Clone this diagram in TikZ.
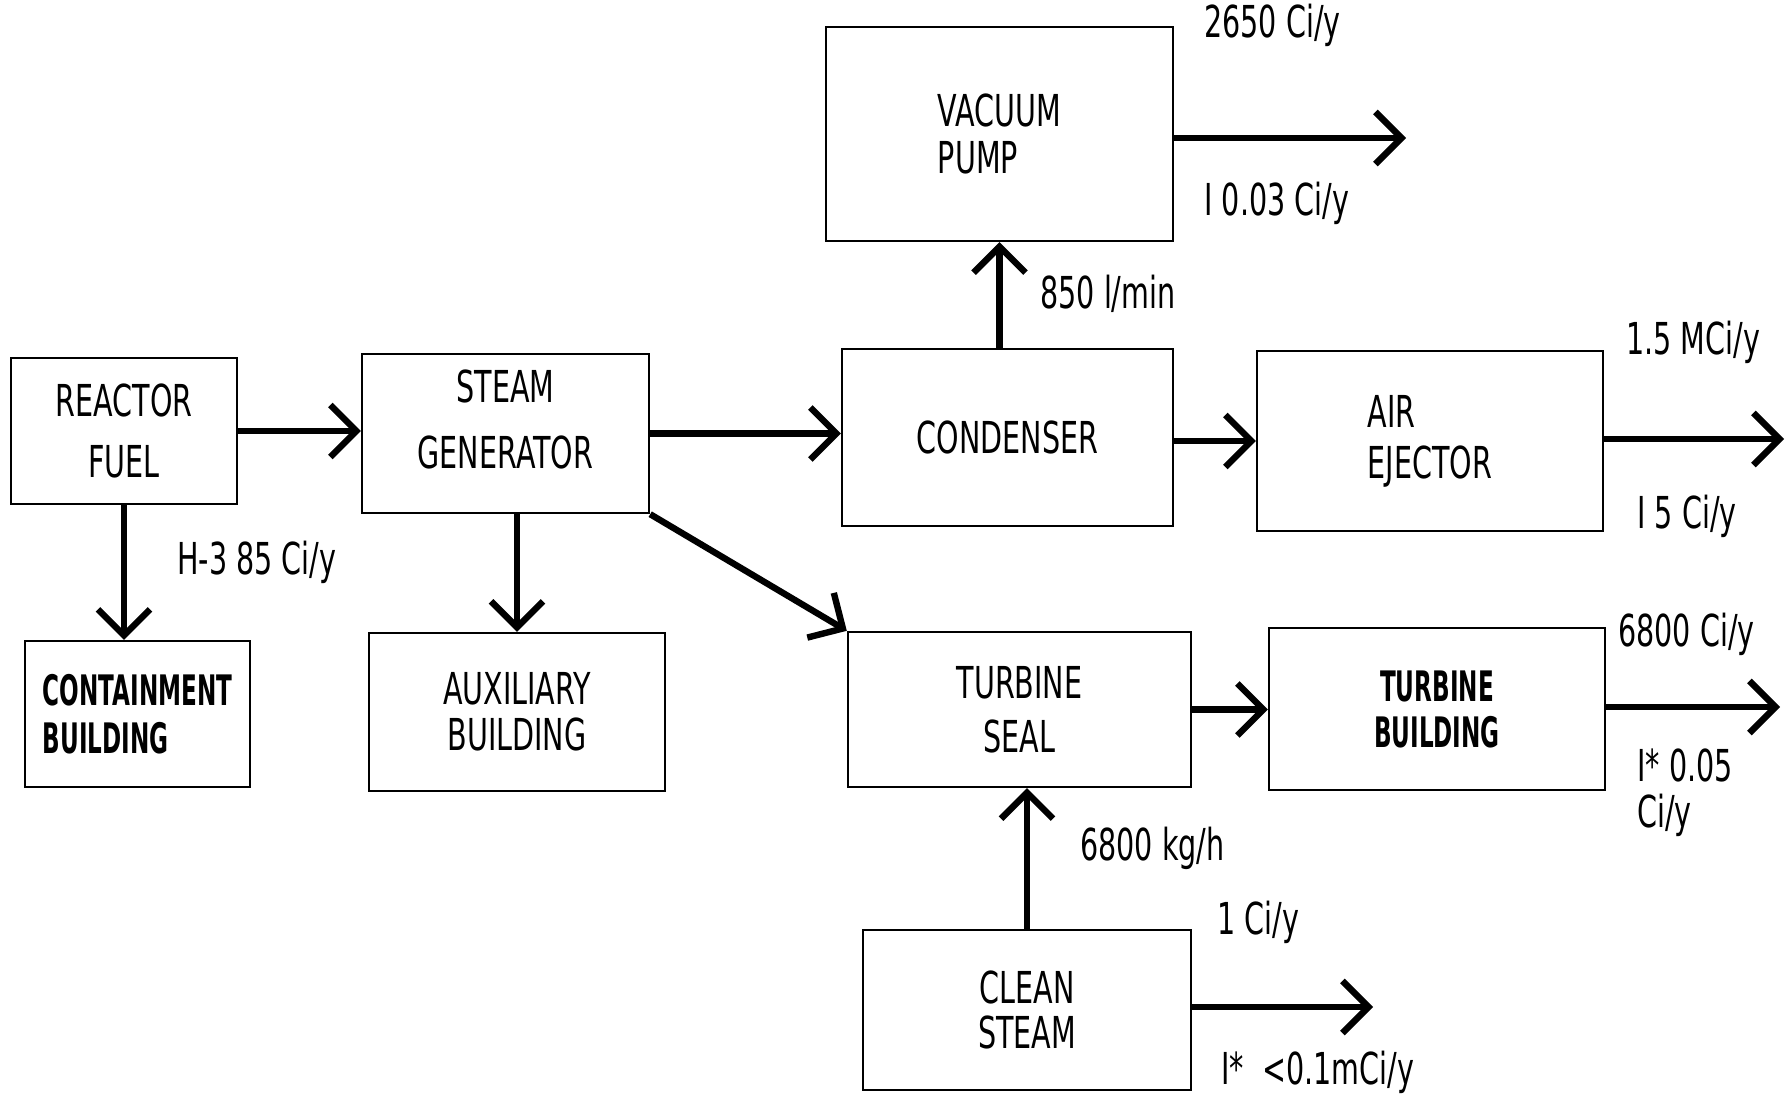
\documentclass[tikz,border=0pt]{standalone}
\usepackage{fontspec}
\setmainfont{DejaVu Sans}[FakeStretch=0.65]
\newfontfamily\narrowbold{DejaVu Sans}[FakeStretch=0.55]
\usetikzlibrary{arrows.meta}
\begin{document}
\begin{tikzpicture}[x=0.5pt,y=-0.5pt,
  box/.style={draw, line width=1.2pt, inner sep=0pt, align=center},
  lbl/.style={anchor=west, inner sep=0pt, font=\fontsize{22}{26}\selectfont},
  arr/.style={line width=3.2pt, -{Straight Barb[length=13pt,width=26pt]}}]
\useasboundingbox (0,0) rectangle (1789,1097);

% boxes
\node[box, minimum width=113pt, minimum height=73pt, font=\fontsize{22}{30.5}\selectfont] (reactor) at (124,431) {REACTOR\\FUEL};
\node[box, minimum width=143.5pt, minimum height=79.5pt, text depth=14pt, font=\fontsize{22}{33}\selectfont] (steam) at (505.5,433.5) {STEAM\\GENERATOR};
\node[box, align=left, minimum width=112.5pt, minimum height=73pt, font=\narrowbold\bfseries\fontsize{21}{24}\selectfont] (contain) at (137.5,714) {CONTAINMENT\\BUILDING};
\node[box, minimum width=148pt, minimum height=79pt, font=\fontsize{22}{23}\selectfont] (aux) at (517,712) {AUXILIARY\\BUILDING};
\node[box, align=left, minimum width=173.5pt, minimum height=107pt, font=\fontsize{22}{23.5}\selectfont] (vacuum) at (999.5,134) {VACUUM\\PUMP};
\node[box, minimum width=165.5pt, minimum height=88.5pt, font=\fontsize{22}{26}\selectfont] (condenser) at (1007.5,437.5) {CONDENSER};
\node[box, align=left, minimum width=173pt, minimum height=90pt, font=\fontsize{22}{25.5}\selectfont] (air) at (1430,441) {AIR\\EJECTOR};
\node[box, minimum width=171.5pt, minimum height=77.5pt, font=\fontsize{22}{27}\selectfont] (seal) at (1019.5,709.5) {TURBINE\\SEAL};
\node[box, minimum width=168pt, minimum height=81pt, font=\narrowbold\bfseries\fontsize{21}{23}\selectfont] (tbldg) at (1437,709) {TURBINE\\BUILDING};
\node[box, minimum width=164pt, minimum height=80pt, font=\fontsize{22}{22.5}\selectfont] (clean) at (1027,1010) {CLEAN\\STEAM};

% free ends
\coordinate (vout) at (1406,138);
\coordinate (aout) at (1784,439);
\coordinate (tout) at (1780,707);
\coordinate (cout) at (1373,1007);

% connectors
\draw[arr] (reactor.east) -- (reactor.east -| steam.west);
\draw[arr] (reactor.south) -- (reactor.south |- contain.north);
\draw[arr] (steam.east) -- (steam.east -| condenser.west);
\draw[arr] (aux.north |- steam.south) -- (aux.north);
\draw[arr] (steam.south east) -- (seal.north west);
\draw[arr] (vacuum.south |- condenser.north) -- (vacuum.south);
\draw[arr] (air.west -| condenser.east) -- (air.west);
\draw[arr] (vacuum.east |- vout) -- (vout);
\draw[arr] (air.east |- aout) -- (aout);
\draw[arr] (seal.east) -- (seal.east -| tbldg.west);
\draw[arr] (tbldg.east |- tout) -- (tout);
\draw[arr] (clean.north) -- (clean.north |- seal.south);
\draw[arr] (clean.east |- cout) -- (cout);

% labels
\node[lbl] (l1) at (1204,25) {2650 Ci/y};
\node[lbl] (l2) at (1204,203) {I 0.03 Ci/y};
\node[lbl] (l3) at (1040,294) {850 l/min};
\node[lbl] (l4) at (1626,342) {1.5 MCi/y};
\node[lbl] (l5) at (1637,516) {I 5 Ci/y};
\node[lbl] (l6) at (177,562) {H-3 85 Ci/y};
\node[lbl] (l7) at (1618,634) {6800 Ci/y};
\node[lbl, align=left, font=\fontsize{22}{23}\selectfont] (l8) at (1637,793) {I* 0.05\\Ci/y};
\node[lbl] (l9) at (1080,848) {6800 kg/h};
\node[lbl] (l10) at (1217,922) {1 Ci/y};
\node[lbl] (l11) at (1221,1072) {I*\ \ <0.1mCi/y};
\end{tikzpicture}
\end{document}
